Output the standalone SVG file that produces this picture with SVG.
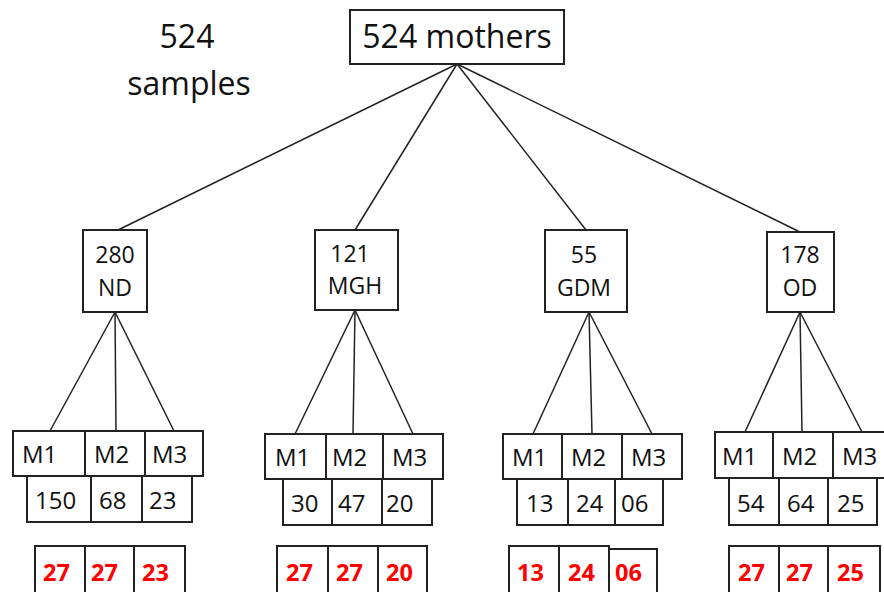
<svg xmlns="http://www.w3.org/2000/svg" width="884" height="592" viewBox="0 0 884 592">
<style>
text{font-family:"Open Sans","Liberation Sans",sans-serif;fill:#111}
.big{font-size:32px}
.mid{font-size:23px;text-anchor:middle}
.sm{font-size:24px}
.red{font-size:23.5px;font-weight:bold;fill:#ff0000}
rect{fill:#fff;stroke:#222;stroke-width:2}
.conn line{stroke:#222;stroke-width:1.5}
</style>
<rect width="884" height="592" style="fill:#fff;stroke:none"/>
<g id="label-samples">
<text class="big" x="187" y="48" text-anchor="middle">524</text>
<text class="big" x="189" y="95" text-anchor="middle">samples</text>
</g>
<g class="conn" id="connectors">
<line x1="457" y1="64" x2="118" y2="230"/>
<line x1="457" y1="64" x2="355" y2="230"/>
<line x1="457" y1="64" x2="586" y2="230"/>
<line x1="457" y1="64" x2="800" y2="232"/>
<line x1="115" y1="312" x2="50" y2="431"/>
<line x1="115" y1="312" x2="116" y2="431"/>
<line x1="115" y1="312" x2="174" y2="431"/>
<line x1="355" y1="310" x2="295" y2="434"/>
<line x1="355" y1="310" x2="353" y2="434"/>
<line x1="355" y1="310" x2="413" y2="434"/>
<line x1="589" y1="312" x2="533" y2="434"/>
<line x1="589" y1="312" x2="592" y2="434"/>
<line x1="589" y1="312" x2="652" y2="434"/>
<line x1="800" y1="312" x2="745" y2="432"/>
<line x1="800" y1="312" x2="802" y2="432"/>
<line x1="800" y1="312" x2="862" y2="432"/>
</g>
<g id="root">
<rect x="350" y="10" width="214" height="54"/>
<text class="big" x="457" y="48" text-anchor="middle">524 mothers</text>
</g>
<g id="nd">
<rect x="83" y="230" width="64" height="82"/>
<text class="mid" x="115" y="263">280</text>
<text class="mid" x="115" y="296">ND</text>
</g>
<g id="mgh">
<rect x="315" y="230" width="83" height="80"/>
<text class="mid" x="350" y="262">121</text>
<text class="mid" x="355" y="294">MGH</text>
</g>
<g id="gdm">
<rect x="545" y="230" width="82" height="82"/>
<text class="mid" x="584" y="263">55</text>
<text class="mid" x="584" y="296">GDM</text>
</g>
<g id="od">
<rect x="767" y="232" width="67" height="80"/>
<text class="mid" x="800" y="263">178</text>
<text class="mid" x="800" y="296">OD</text>
</g>
<g id="nd-m">
<rect x="13" y="431" width="72" height="45"/><rect x="85" y="431" width="60" height="45"/><rect x="145" y="431" width="58" height="45"/>
<text class="sm" x="22" y="463">M1</text><text class="sm" x="94" y="463">M2</text><text class="sm" x="152" y="463">M3</text>
</g>
<g id="nd-n">
<rect x="27" y="476" width="64" height="46"/><rect x="91" y="476" width="51" height="46"/><rect x="142" y="476" width="50" height="46"/>
<text class="sm" x="35" y="509">150</text><text class="sm" x="99" y="509">68</text><text class="sm" x="149" y="509">23</text>
</g>
<g id="nd-r">
<rect x="35" y="546" width="50" height="50"/><rect x="85" y="546" width="49" height="50"/><rect x="134" y="546" width="51" height="50"/>
<text class="red" x="43" y="581">27</text><text class="red" x="91" y="581">27</text><text class="red" x="142" y="581">23</text>
</g>
<g id="mgh-m">
<rect x="265" y="434" width="61" height="45"/><rect x="326" y="434" width="57" height="45"/><rect x="383" y="434" width="60" height="45"/>
<text class="sm" x="275" y="466">M1</text><text class="sm" x="332" y="466">M2</text><text class="sm" x="392" y="466">M3</text>
</g>
<g id="mgh-n">
<rect x="283" y="479" width="49" height="46"/><rect x="332" y="479" width="50" height="46"/><rect x="382" y="479" width="50" height="46"/>
<text class="sm" x="291" y="512">30</text><text class="sm" x="338" y="512">47</text><text class="sm" x="386" y="512">20</text>
</g>
<g id="mgh-r">
<rect x="277" y="546" width="51" height="50"/><rect x="328" y="546" width="50" height="50"/><rect x="378" y="546" width="49" height="50"/>
<text class="red" x="286" y="581">27</text><text class="red" x="336" y="581">27</text><text class="red" x="386" y="581">20</text>
</g>
<g id="gdm-m">
<rect x="503" y="434" width="59" height="45"/><rect x="562" y="434" width="60" height="45"/><rect x="622" y="434" width="60" height="45"/>
<text class="sm" x="512" y="466">M1</text><text class="sm" x="571" y="466">M2</text><text class="sm" x="631" y="466">M3</text>
</g>
<g id="gdm-n">
<rect x="517" y="479" width="51" height="46"/><rect x="568" y="479" width="47" height="46"/><rect x="615" y="479" width="48" height="46"/>
<text class="sm" x="526" y="512">13</text><text class="sm" x="576" y="512">24</text><text class="sm" x="621" y="512">06</text>
</g>
<g id="gdm-r">
<rect x="509" y="546" width="50" height="50"/><rect x="559" y="546" width="50" height="50"/><rect x="609" y="549" width="48" height="47"/>
<text class="red" x="517" y="581">13</text><text class="red" x="568" y="581">24</text><text class="red" x="615" y="581">06</text>
</g>
<g id="od-m">
<rect x="715" y="432" width="58" height="46"/><rect x="773" y="432" width="60" height="46"/><rect x="833" y="432" width="60" height="46"/>
<text class="sm" x="722" y="465">M1</text><text class="sm" x="782" y="465">M2</text><text class="sm" x="842" y="465">M3</text>
</g>
<g id="od-n">
<rect x="729" y="478" width="50" height="47"/><rect x="779" y="478" width="49" height="47"/><rect x="828" y="478" width="49" height="47"/>
<text class="sm" x="737" y="512">54</text><text class="sm" x="787" y="512">64</text><text class="sm" x="837" y="512">25</text>
</g>
<g id="od-r">
<rect x="729" y="546" width="50" height="50"/><rect x="779" y="546" width="49" height="50"/><rect x="828" y="546" width="52" height="50"/>
<text class="red" x="738" y="581">27</text><text class="red" x="786" y="581">27</text><text class="red" x="837" y="581">25</text>
</g>
</svg>
